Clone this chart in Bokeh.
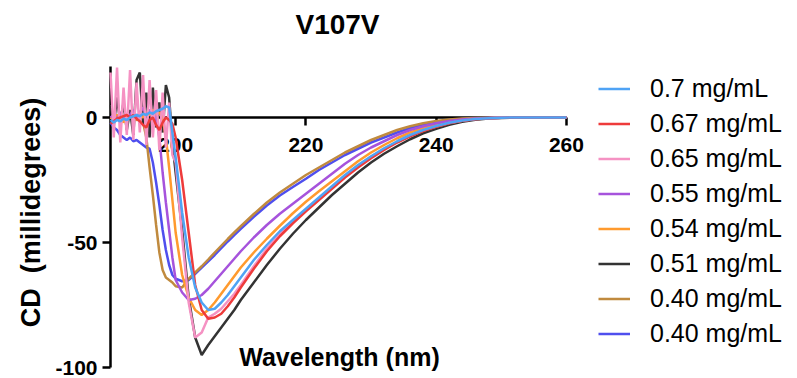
import math
from bokeh.plotting import figure
from bokeh.models import Range1d, FixedTicker, Legend, LegendItem, Label
from bokeh.embed import file_html
from bokeh.resources import INLINE

# Wavelength grid (nm)
wavelength = [190, 190.5, 191, 191.5, 192, 192.5, 193, 193.5, 194, 194.5, 195,
              195.5, 196, 196.5, 197, 197.5, 198, 198.5, 199, 199.5, 200,
              201, 202, 203, 204, 205, 206, 207, 208, 209, 210,
              212, 214, 216, 218, 220, 222, 224, 226, 228, 230, 232, 234, 236,
              238, 240, 242, 244, 246, 248, 250, 252, 254, 256, 258, 260]

labels = ["0.7 mg/mL", "0.67 mg/mL", "0.65 mg/mL", "0.55 mg/mL",
          "0.54 mg/mL", "0.51 mg/mL", "0.40 mg/mL", "0.40 mg/mL"]
colors = ["#4FA3F5", "#EE3B3B", "#F592C3", "#A653DC",
          "#FF9A2E", "#333333", "#C08A3E", "#4F4FEE"]

cd_070 = [-1, -2, -1, -1.5, -0.5, -1, 0, 0.5, 1, 0.5, 1.5, 1, 2, 1.5, 2.5, 3, 3.5, 4.5, 4, -6, -16,
          -38, -56, -68, -74, -77, -76.5, -74, -71, -67.5, -64,
          -57, -51, -45.5, -41, -36.5, -32, -27.5, -23, -19, -15.5, -12.3, -9.5, -7, -5, -3.4,
          -2.1, -1.2, -0.6, -0.3, -0.1, 0, 0, 0, 0, 0]
cd_067 = [-2.5, -1.5, -0.5, 0, 0.5, 1, 0, 1, -0.5, -1.5, -3, -4, -1, 0, -3, -5, -2, 0, -1, -2.5, -8,
          -25, -46, -67, -77, -80.5, -80, -78.5, -75.5, -72, -68,
          -60.5, -53.5, -47.5, -42.3, -37.5, -33, -28.5, -24, -20, -16.3, -13, -10, -7.5, -5.4, -3.7,
          -2.3, -1.3, -0.7, -0.35, -0.15, 0, 0, 0, 0, 0]
cd_065 = [18, -8, 20, -10, 12, -7, 19, -9, 14, -6, 17, -11, 15, -8, 11, -13, 10, -12, 6, -15, -18,
          -48, -74, -88, -86, -80, -78.5, -76.5, -73.5, -70.5, -67,
          -59.5, -52.5, -46.5, -41.7, -37, -32.5, -28, -23.5, -19.5, -16, -12.7, -9.8, -7.3, -5.2, -3.6,
          -2.2, -1.3, -0.65, -0.3, -0.1, 0, 0, 0, 0, 0]
cd_055 = [0, 1, -1, 2, 0, -1, 1, 3, 0, 2, 4, 1, 3, 2, 0, -8, -22, -34, -45, -56, -65,
          -70, -73, -72.5, -71, -68.5, -65.5, -62.5, -59.5, -56.5, -53.5,
          -48, -43, -38.5, -34.5, -30.5, -26.5, -22.5, -18.5, -15, -12, -9.5, -7, -5, -3.5, -2.3,
          -1.4, -0.8, -0.4, -0.2, -0.1, 0, 0, 0, 0, 0]
cd_054 = [0, -1, 1, 0, -2, 1, 0, 2, -1, 1, 0, 2, 1, 3, 1, 2, 0, -8, -20, -33, -46,
          -63, -72, -77, -79, -77, -74, -70.5, -67, -63.5, -60,
          -54, -48.5, -43.3, -38.3, -33.7, -29.5, -25.5, -21.5, -17.5, -14, -11, -8.3, -6, -4.2, -2.8,
          -1.7, -1, -0.5, -0.25, -0.1, 0, 0, 0, 0, 0]
cd_051 = [5, -3, 8, -2, 6, -5, 3, -7, 15, 18, -3, 10, -8, 12, -4, 6, -6, 13, 8, -10, -22,
          -45, -72, -88, -95, -91, -87.5, -84, -80.5, -77, -73,
          -66, -59, -52.5, -46.5, -41, -36, -31, -26.5, -22, -18, -14.5, -11.5, -8.7, -6.3, -4.5,
          -2.9, -1.7, -0.9, -0.45, -0.2, -0.1, 0, 0, 0, 0]
cd_040a = [0.5, -0.5, 1, 0, -1, 0.5, -0.5, 0, -1, -0.5, -2, -8, -20, -31, -43, -54, -61, -64, -65, -66, -67.5,
           -68, -64.5, -62, -59.5, -56.8, -54, -51.3, -48.6, -46, -43.5,
           -38.6, -34, -30, -26.5, -23, -20, -17, -14, -11.5, -9, -7, -5, -3.5, -2.3, -1.4,
           -0.8, -0.4, -0.2, -0.1, 0, 0, 0, 0, 0, 0]
cd_040b = [-2, -4, -5, -7, -8, -9, -8, -9.5, -9, -10, -11, -12, -12.5, -18, -26, -35, -45, -53, -59, -63, -64.5,
           -65.5, -65, -62.5, -60, -57.5, -55, -52.3, -49.6, -47, -44.5,
           -39.7, -35.2, -31.2, -27.8, -24.5, -21, -18, -15, -12.5, -10, -8, -6, -4.2, -2.8, -1.8,
           -1.1, -0.6, -0.3, -0.15, -0.05, 0, 0, 0, 0, 0]

series = [cd_070, cd_067, cd_065, cd_055, cd_054, cd_051, cd_040a, cd_040b]

x_ticks = [200, 220, 240, 260]
y_ticks = [-100, -50, 0]
x_bounds = (190, 260)
y_bounds = (-100, 20.4)

FONT = "Liberation Sans"
W, H = 797, 378

# Frame covers the whole canvas; axes are pinned at x=190 and y=0.
p = figure(width=W, height=H, output_backend="svg", toolbar_location=None,
           x_range=Range1d(173.11, 295.47), y_range=Range1d(-104.4, 46.8),
           min_border_left=0, min_border_right=0, min_border_top=0,
           min_border_bottom=0)

p.grid.visible = False
p.outline_line_color = None
p.background_fill_color = "white"
p.border_fill_color = "white"

p.xaxis.fixed_location = 0
p.xaxis.bounds = x_bounds
p.xaxis.ticker = FixedTicker(ticks=x_ticks)
p.yaxis.fixed_location = 190
p.yaxis.bounds = y_bounds
p.yaxis.ticker = FixedTicker(ticks=y_ticks)
p.yaxis.major_label_overrides = {t: str(t) for t in y_ticks}
for ax in (p.xaxis, p.yaxis):
    ax.axis_line_width = 2.5
    ax.axis_line_color = "black"
    ax.major_tick_line_width = 2.5
    ax.major_tick_line_color = "black"
    ax.major_tick_out = 8
    ax.major_tick_in = 0
    ax.minor_tick_out = 0
    ax.minor_tick_in = 0
    ax.major_label_text_font = FONT
    ax.major_label_text_font_size = "21px"
    ax.major_label_text_font_style = "bold"
    ax.major_label_text_color = "black"
p.xaxis.major_label_standoff = 12
p.yaxis.major_label_standoff = 5

renderers = [None] * len(series)
for i in reversed(range(len(series))):
    r = p.line(wavelength, series[i], line_color=colors[i], line_width=2.5, level="overlay")
    renderers[i] = r

legend = Legend(items=[LegendItem(label=labels[i], renderers=[renderers[i]]) for i in range(len(series))],
                location=(598, 27), orientation="vertical",
                glyph_width=32, glyph_height=35, label_height=35, spacing=0,
                padding=0, margin=0, label_standoff=20,
                label_text_font=FONT, label_text_font_size="25px",
                label_text_color="black",
                border_line_alpha=0, background_fill_alpha=0)
p.add_layout(legend)

p.add_layout(Label(x=337, y=H - 24, x_units="screen", y_units="screen",
                   text="V107V", text_align="center", text_baseline="middle",
                   text_font=FONT, text_font_size="28px", text_font_style="bold",
                   text_color="black"))
p.add_layout(Label(x=30, y=H - 212, x_units="screen", y_units="screen",
                   text="CD\u00a0\u00a0(millidegrees)", angle=math.pi / 2,
                   text_align="center", text_baseline="middle",
                   text_font=FONT, text_font_size="27px", text_font_style="bold",
                   text_color="black"))
p.add_layout(Label(x=339, y=H - 356, x_units="screen", y_units="screen",
                   text="Wavelength (nm)", text_align="center", text_baseline="middle",
                   text_font=FONT, text_font_size="25px", text_font_style="bold",
                   text_color="black"))

open("out.html", "w").write(file_html(p, INLINE))
